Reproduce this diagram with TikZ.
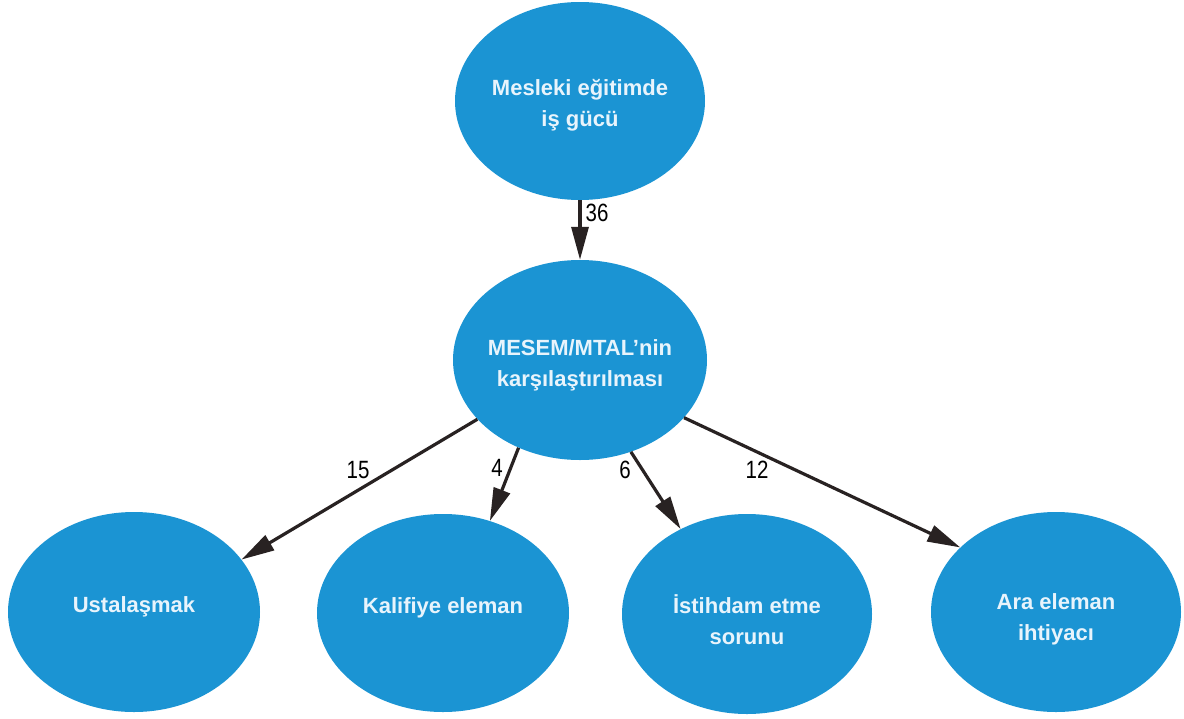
\documentclass[tikz,border=0pt]{standalone}
\usepackage{fontspec}
\setmainfont{Liberation Sans}
\newfontfamily\numfont{Liberation Sans}[FakeStretch=0.82]
\usetikzlibrary{shapes.geometric,arrows.meta}
\definecolor{bubble}{RGB}{27,148,211}
\definecolor{bubbletext}{RGB}{232,244,252}
\definecolor{arrowcol}{RGB}{40,34,34}
\tikzset{
  bubble/.style={ellipse, fill=bubble, draw=none, inner sep=0pt},
  btext/.style={text=bubbletext, font=\fontsize{22}{31}\selectfont\bfseries,
    align=center, inner sep=0pt},
  link/.style={draw=arrowcol, line width=3.2pt,
    -{Triangle[length=33pt,width=17pt]}},
  num/.style={font=\numfont\fontsize{25}{28}\selectfont, text=black, inner sep=0pt}
}
\begin{document}
\begin{tikzpicture}[x=1pt,y=-1pt]
\useasboundingbox (0,0) rectangle (1184,718);
\fill[white] (0,0) rectangle (1184,718);

\node[bubble, minimum width=250pt, minimum height=198pt] (top) at (580,101) {};
\node[bubble, minimum width=254pt, minimum height=200pt] (mid) at (580,360) {};
\node[bubble, minimum width=252pt, minimum height=200pt] (ust) at (134,612) {};
\node[bubble, minimum width=252pt, minimum height=198pt] (kal) at (443,613) {};
\node[bubble, minimum width=250pt, minimum height=200pt] (ist) at (747,614) {};
\node[bubble, minimum width=250pt, minimum height=200pt] (ara) at (1056,612) {};

\node[btext] (topT) at ([yshift=-4pt]top.center) {Mesleki eğitimde\\iş gücü};
\node[btext] (midT) at ([yshift=-5pt]mid.center) {MESEM/MTAL’nin\\karşılaştırılması};
\node[btext] (ustT) at ([yshift=5pt]ust.center) {Ustalaşmak};
\node[btext] (kalT) at ([yshift=5pt]kal.center) {Kalifiye eleman};
\node[btext] (istT) at ([yshift=-6pt]ist.center) {İstihdam etme\\sorunu};
\node[btext] (araT) at ([yshift=-7pt]ara.center) {Ara eleman\\ihtiyacı};

\draw[link] (top.south) -- (mid.north);
\draw[link] (mid.210.5) -- (ust.26.8);
\draw[link] (mid.235.9) -- (kal.63.9);
\draw[link] (mid.299.5) -- (ist.128.1);
\draw[link] (mid.331.9) -- (ara.146.8);

\node[num] (n36) at (597,213) {36};
\node[num] (n15) at (358,470) {15};
\node[num] (n4) at (497,468) {4};
\node[num] (n6) at (625,470) {6};
\node[num] (n12) at (757,470) {12};
\end{tikzpicture}
\end{document}
